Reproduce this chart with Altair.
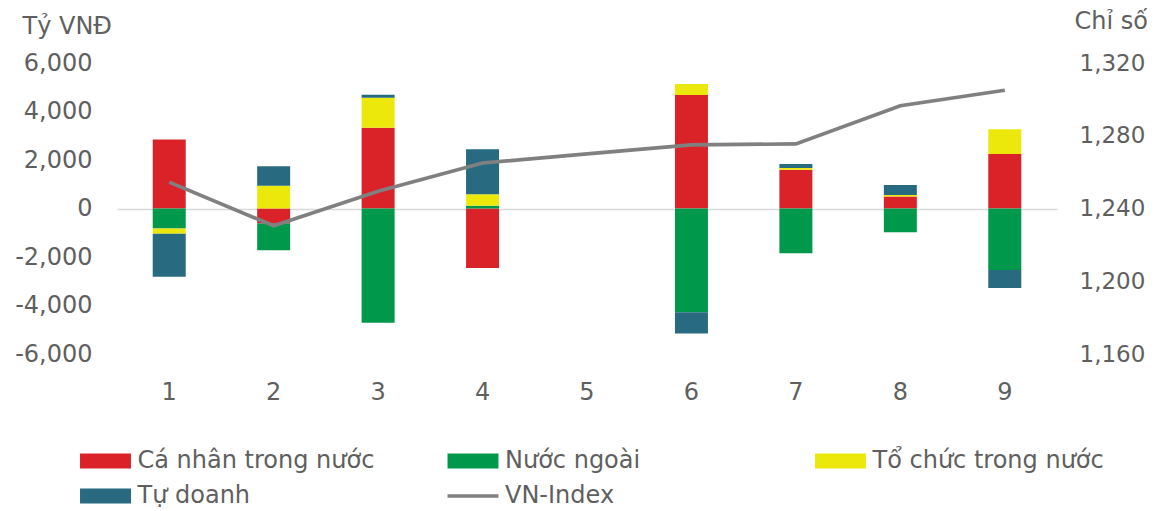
import altair as alt
import pandas as pd

months = ["1", "2", "3", "4", "5", "6", "7", "8", "9"]
ca_nhan = [2850, -620, 3330, -2450, None, 4680, 1600, 490, 2250]
nuoc_ngoai = [-820, -1100, -4710, 110, None, -4280, -1850, -980, -2540]
to_chuc = [-220, 940, 1240, 480, None, 450, 70, 70, 1020]
tu_doanh = [-1770, 800, 120, 1850, None, -870, 160, 410, -740]
vn_index = [1254.5, 1230.5, 1249.5, 1265, 1270, 1275, 1275.5, 1296.5, 1305]

series_names = ["Cá nhân trong nước", "Nước ngoài", "Tổ chức trong nước", "Tự doanh"]
line_name = "VN-Index"
colors = ["#DA2229", "#00984A", "#EDE80C", "#286B81", "#808080"]
left_ticks = [-6000, -4000, -2000, 0, 2000, 4000, 6000]
right_ticks = [1160, 1200, 1240, 1280, 1320]

FONT = "DejaVu Sans"
TXT = "#5f5f5f"

rows = []
for idx, (name, vals) in enumerate(zip(series_names, [ca_nhan, nuoc_ngoai, to_chuc, tu_doanh])):
    for m, v in zip(months, vals):
        if v is not None:
            rows.append({"month": m, "series": name, "value": v, "ord": idx})
bar_df = pd.DataFrame(rows)
line_df = pd.DataFrame({"month": months, "index": vn_index})

x_enc = alt.X(
    "month:N",
    sort=months,
    scale=alt.Scale(domain=months, paddingInner=0, paddingOuter=0),
    axis=alt.Axis(title=None, labelAngle=0, ticks=False, domain=False, labelPadding=26),
)

rect = "M-3.64,-1.07H3.64V1.07H-3.64Z"
thin = "M-3.64,-0.25H3.64V0.25H-3.64Z"

bars = alt.Chart(bar_df).mark_bar(size=33).encode(
    x=x_enc,
    y=alt.Y(
        "value:Q",
        stack="zero",
        scale=alt.Scale(domain=[-6000, 6000], nice=False, zero=False),
        axis=alt.Axis(
            values=left_ticks, format=",.0f", labelExpr="replace(datum.label, '\u2212', '-')",
            title="Tỷ VNĐ", titleAngle=0,
            titleX=-95, titleY=-29.5, titleAlign="left", titleBaseline="alphabetic",
            grid=True, gridColor={"condition": {"test": "datum.value === 0", "value": "#D9D9D9"}, "value": "transparent"},
            gridWidth=1.5, ticks=False, domain=False, labelPadding=25,
        ),
    ),
    color=alt.Color(
        "series:N",
        scale=alt.Scale(domain=series_names + [line_name], range=colors),
        legend=alt.Legend(
            title=None, orient="none", direction="horizontal", legendX=-37, legendY=386, columns=3,
            gridAlign="all", columnPadding=72.5, rowPadding=11,
            symbolType={"expr": f"datum.value === '{line_name}' ? '{thin}' : '{rect}'"},
            symbolSize=196, symbolStrokeWidth=0, symbolOffset=13.5, labelOffset=20,
            labelFont=FONT, labelFontSize=24, labelColor=TXT,
            labelLimit=500, padding=0,
        ),
    ),
    order=alt.Order("ord:Q"),
)

line = alt.Chart(line_df).mark_line(color="#808080", strokeWidth=3.7).encode(
    x=x_enc,
    y=alt.Y(
        "index:Q",
        scale=alt.Scale(domain=[1160, 1320], nice=False, zero=False),
        axis=alt.Axis(
            orient="right", values=right_ticks, format=",.0f", title="Chỉ số", titleAngle=0,
            titleX=17, titleY=-34.5, titleAlign="left", titleBaseline="alphabetic",
            grid=False, ticks=False, domain=False, labelPadding=22, labelFontSize=23,
        ),
    ),
)

chart = (
    alt.layer(bars, line)
    .resolve_scale(y="independent")
    .properties(
        width=940, height=291,
        autosize=alt.AutoSizeParams(type="none"),
        padding={"left": 109, "top": 55, "right": 90, "bottom": 157},
        background="white",
    )
    .configure_view(stroke=None)
    .configure_axis(
        labelFont=FONT, labelFontSize=24, labelColor=TXT,
        titleFont=FONT, titleFontSize=24, titleColor=TXT, titleFontWeight="normal",
    )
)

chart.save("out.html", embed_options={"renderer": "svg", "actions": False})
